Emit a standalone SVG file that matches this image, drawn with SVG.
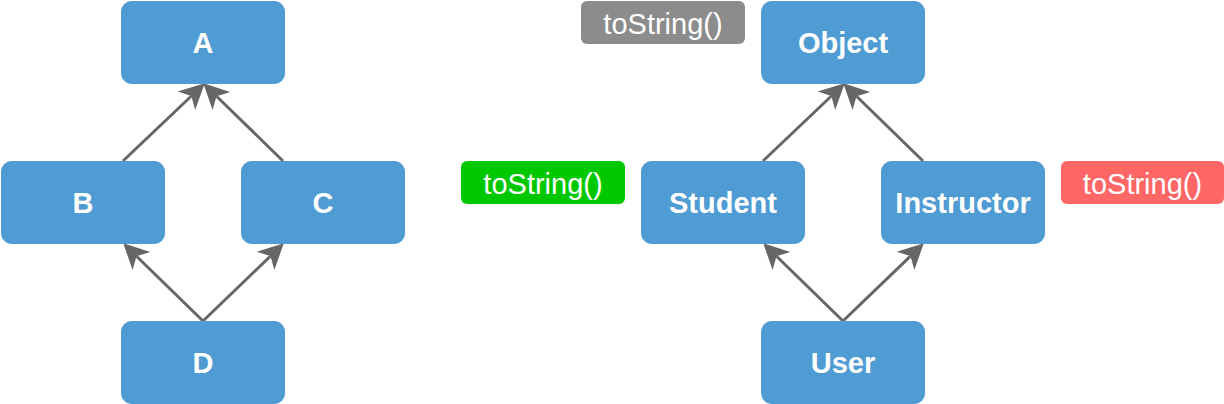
<svg xmlns="http://www.w3.org/2000/svg" width="1224" height="404" viewBox="0 0 1224 404">
<style>
.node{fill:#4F9BD3}
.nt{font-family:"Liberation Sans",Arial,sans-serif;font-weight:bold;font-size:29px;fill:#fff;text-anchor:middle}
.lt{font-family:"Liberation Sans",Arial,sans-serif;font-size:29px;fill:#fff;text-anchor:middle}
.edge{stroke:#666;stroke-width:3;fill:none;marker-end:url(#arr)}
</style>
<defs>
<marker id="arr" markerUnits="userSpaceOnUse" markerWidth="30" markerHeight="30" viewBox="-8 -13 26 26" refX="0" refY="0" orient="auto">
<path d="M16,0 L-6,-11 L0,0 L-6,11 Z" fill="#666"/>
</marker>
</defs>
<rect width="1224" height="404" fill="#fff"/>
<g id="connectors">
<line class="edge" x1="123" y1="161" x2="191.4" y2="96"/>
<line class="edge" x1="283" y1="161" x2="216.5" y2="96.2"/>
<line class="edge" x1="203" y1="321" x2="136.5" y2="256.2"/>
<line class="edge" x1="203" y1="321" x2="270.5" y2="256.1"/>
<line class="edge" x1="763" y1="161" x2="831.4" y2="96"/>
<line class="edge" x1="923" y1="161" x2="856.5" y2="96.2"/>
<line class="edge" x1="843" y1="321" x2="776.5" y2="256.2"/>
<line class="edge" x1="843" y1="321" x2="910.5" y2="256.1"/>
</g>
<g id="A"><rect class="node" x="121" y="1" width="164" height="83" rx="11"/><text class="nt" x="203" y="53">A</text></g>
<g id="B"><rect class="node" x="1" y="161" width="164" height="83" rx="11"/><text class="nt" x="83" y="213">B</text></g>
<g id="C"><rect class="node" x="241" y="161" width="164" height="83" rx="11"/><text class="nt" x="323" y="213">C</text></g>
<g id="D"><rect class="node" x="121" y="321" width="164" height="83" rx="11"/><text class="nt" x="203" y="373">D</text></g>
<g id="Object"><rect class="node" x="761" y="1" width="164" height="83" rx="11"/><text class="nt" x="843" y="53">Object</text></g>
<g id="Student"><rect class="node" x="641" y="161" width="164" height="83" rx="11"/><text class="nt" x="723" y="213">Student</text></g>
<g id="Instructor"><rect class="node" x="881" y="161" width="164" height="83" rx="11"/><text class="nt" x="963" y="213">Instructor</text></g>
<g id="User"><rect class="node" x="761" y="321" width="164" height="83" rx="11"/><text class="nt" x="843" y="373">User</text></g>
<g id="label-gray"><rect x="581" y="1" width="164" height="43" rx="6" fill="#8C8C8C"/><text class="lt" x="663" y="33.5">toString()</text></g>
<g id="label-green"><rect x="461" y="161" width="164" height="43" rx="6" fill="#00C800"/><text class="lt" x="543" y="193.5">toString()</text></g>
<g id="label-red"><rect x="1061" y="161" width="163" height="43" rx="6" fill="#FF6666"/><text class="lt" x="1142.5" y="193.5">toString()</text></g>
</svg>
